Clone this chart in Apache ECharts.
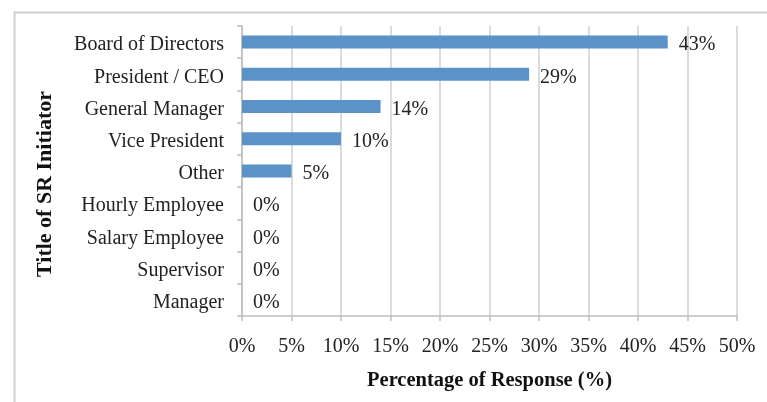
<!DOCTYPE html>
<html>
<head>
<meta charset="utf-8">
<script src="https://cdn.jsdelivr.net/npm/echarts@6/dist/echarts.min.js"></script>
<style>html,body{margin:0;padding:0;background:#fff}#c{width:767px;height:402px}</style>
</head>
<body>
<div id="c"></div>
<script>
const categories = ['Board of Directors','President / CEO','General Manager','Vice President','Other','Hourly Employee','Salary Employee','Supervisor','Manager'];
const values = [43, 29, 14, 10, 5, 0, 0, 0, 0];
const xTickMax = 50;
const xTickStep = 5;
const yTitle = 'Title of SR Initiator';
const xTitle = 'Percentage of Response (%)';

const font = 'Liberation Serif, Times New Roman, serif';
const chart = echarts.init(document.getElementById('c'), null, {renderer: 'canvas'});
chart.setOption({
  animation: false,
  backgroundColor: '#fff',
  graphic: [{
    type: 'rect', left: 12, top: 10, shape: {width: 800, height: 450},
    style: {fill: 'none', stroke: '#d0d0d0', lineWidth: 2}, silent: true, z: -1
  }, {
    type: 'text', x: 45, y: 184, rotation: Math.PI / 2,
    style: {text: yTitle, font: 'bold 22px ' + font, fill: '#111', align: 'center', verticalAlign: 'middle'}
  }],
  grid: {left: 242, top: 26, right: 30, bottom: 86, containLabel: false},
  xAxis: {
    type: 'value', min: 0, max: xTickMax, interval: xTickStep,
    axisLine: {show: true, lineStyle: {color: '#bdbdbd', width: 1.5}},
    axisTick: {show: true, length: 5, lineStyle: {color: '#bdbdbd', width: 1.5}},
    splitLine: {show: true, lineStyle: {color: '#cfcfcf', width: 1.5}},
    axisLabel: {formatter: '{value}%', fontFamily: font, fontSize: 20, color: '#222', margin: 21},
    name: xTitle, nameLocation: 'middle', nameGap: 54,
    nameTextStyle: {fontFamily: font, fontSize: 20.5, fontWeight: 'bold', color: '#111'}
  },
  yAxis: {
    type: 'category', data: categories, inverse: true,
    axisLine: {show: true, lineStyle: {color: '#bdbdbd', width: 1.5}},
    axisTick: {show: true, length: 5, lineStyle: {color: '#bdbdbd', width: 1.5}},
    axisLabel: {fontFamily: font, fontSize: 20, color: '#222', margin: 18,
      formatter: v => '{a|' + v + '}',
      rich: {a: {fontFamily: font, fontSize: 20, color: '#222', padding: [6, 0, 0, 0]}}}
  },
  series: [{
    type: 'bar', data: values, barWidth: 13,
    itemStyle: {color: '#5b93c9'},
    label: {show: true, position: 'right', distance: 11, formatter: '{c}%', offset: [0, 3],
      fontFamily: font, fontSize: 20, color: '#222'}
  }]
});
</script>
</body>
</html>
